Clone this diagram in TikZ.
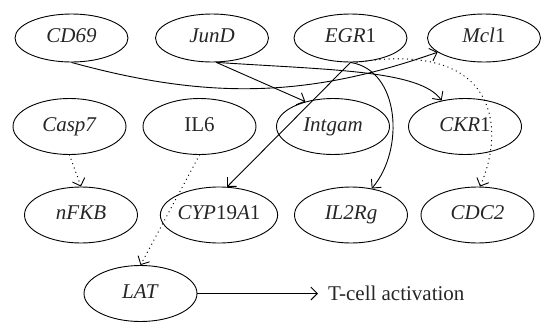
\documentclass[tikz,border=0pt]{standalone}
\usepackage{fontspec}
\setmainfont{Liberation Serif}
\usetikzlibrary{arrows.meta,shapes.geometric}
\tikzset{
  gene/.style={ellipse, draw=black, line width=0.9pt, inner sep=0pt,
    minimum width=113pt, minimum height=56pt, text=black!85,
    font=\fontsize{21}{25}\selectfont, text height=13.5pt, text depth=4pt},
  generow/.style={gene, minimum height=48pt},
  edge/.style={line width=0.9pt, -{Straight Barb[length=6.5pt,width=13pt,line width=0.9pt]}},
  dotedge/.style={edge, line cap=round, dash pattern=on 0.1pt off 4.5pt, line width=1.3pt},
  label/.style={text=black!85, font=\fontsize{21}{25}\selectfont, anchor=west,
    inner xsep=10pt, inner ysep=0pt}
}
\begin{document}
\begin{tikzpicture}[x=1pt,y=-1pt]
\useasboundingbox (0,0) rectangle (542,322);
\node[generow] (cd)  at (71.5,38)  {\textit{CD69}};
\node[generow] (jun) at (212,38)   {\textit{JunD}};
\node[generow] (egr) at (350.5,38) {\textit{EGR}1};
\node[generow] (mcl) at (484,38)   {\textit{Mcl}1};
\node[gene] (casp) at (69.5,126.5) {\textit{Casp7}};
\node[gene] (il6)  at (199.5,126.5) {IL6};
\node[gene] (intg) at (333,126.5)  {\textit{Intgam}};
\node[gene] (ckr)  at (465,126.5)  {\textit{CKR}1};
\node[gene] (nfkb) at (81,215)     {\textit{nFKB}};
\node[gene] (cyp)  at (219,215)    {\textit{CYP}19\textit{A}1};
\node[gene] (il2)  at (351,215)    {\textit{IL2Rg}};
\node[gene] (cdc)  at (477.5,215)  {\textit{CDC2}};
\node[gene] (lat)  at (140.5,293.5) {\textit{LAT}};
\node[label] (tc) at (318,293.5) {T-cell activation};

\draw[edge] (cd.south) .. controls (205,99) and (305,99) .. (mcl.197);
\draw[edge] (jun.-80) -- (intg.138);
\draw[edge] (jun.-80) .. controls (330,70) and (420,70) .. (ckr.132);
\draw[edge] (egr.south) -- (cyp.74);
\draw[edge] (egr.south) .. controls (400,70) and (405,150) .. (il2.52);
\draw[dotedge] (egr.-75) .. controls (500,40) and (505,130) .. (cdc.85);
\draw[dotedge] (casp.south) -- (nfkb.north);
\draw[dotedge] (il6.south) -- (lat.north);
\draw[edge] (lat.east) -- (tc.west);
\end{tikzpicture}
\end{document}
